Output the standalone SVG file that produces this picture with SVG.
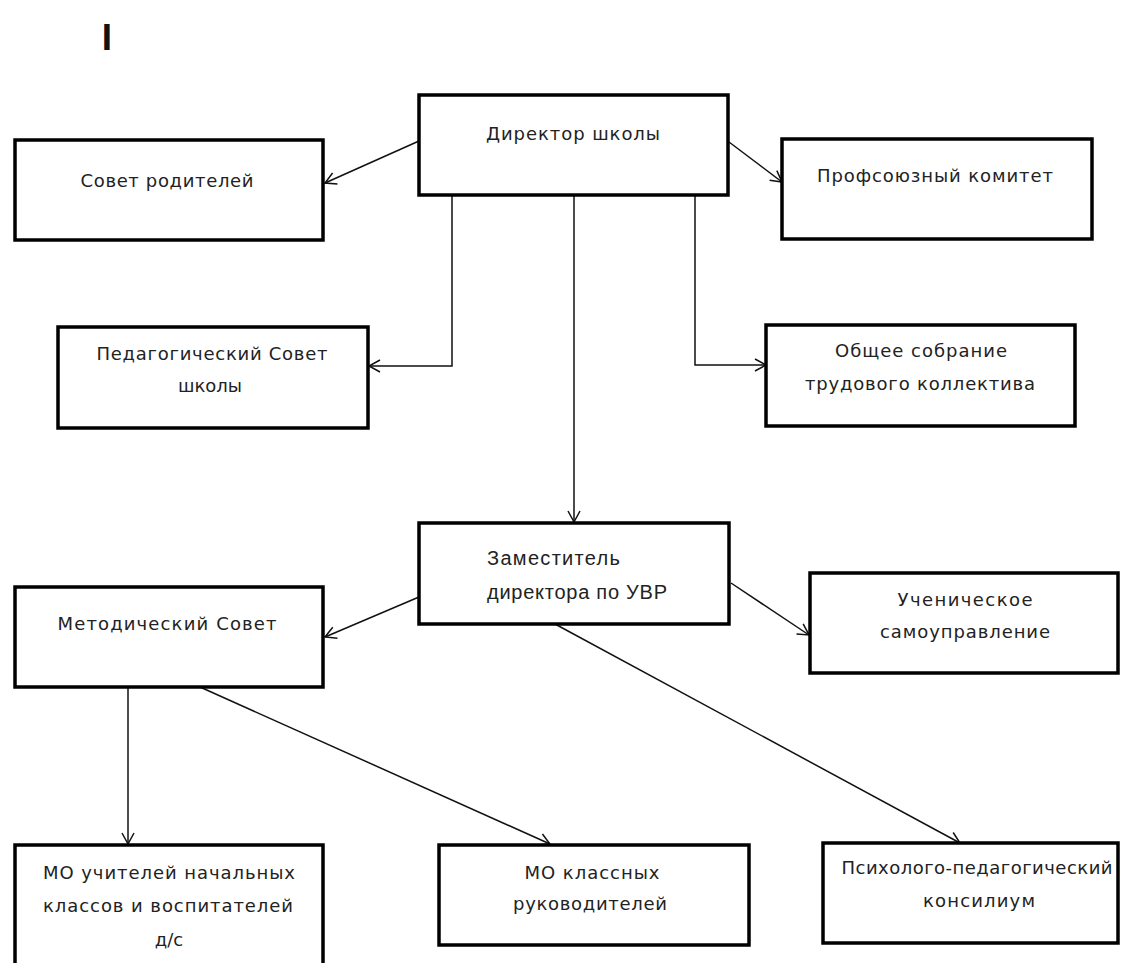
<svg xmlns="http://www.w3.org/2000/svg" width="1122" height="963" viewBox="0 0 1122 963">
<style>
.box{fill:#fff;stroke:#000;stroke-width:3.5}
.t{font-family:"DejaVu Sans",Verdana,sans-serif;font-size:18px;fill:#222}
.a{font-family:"Liberation Sans",Arial,sans-serif;font-size:20px;fill:#222}
.c{text-anchor:middle}
.ln{fill:none;stroke:#111;stroke-width:1.5}
</style>
<defs>
<marker id="a" markerUnits="userSpaceOnUse" markerWidth="16" markerHeight="16" refX="13" refY="8" orient="auto">
<path d="M2,2 L13,8 L2,14" fill="none" stroke="#111" stroke-width="1.5"/>
</marker>
</defs>
<rect width="1122" height="963" fill="#fff"/>
<text x="107" y="50" font-family="Liberation Sans,Arial,sans-serif" font-size="37" font-weight="bold" fill="#111" text-anchor="middle">I</text>
<g id="connectors">
<line class="ln" x1="419" y1="141" x2="325" y2="183" marker-end="url(#a)"/>
<line class="ln" x1="729" y1="142" x2="782" y2="182" marker-end="url(#a)"/>
<polyline class="ln" points="452,195 452,366 369,366" marker-end="url(#a)"/>
<polyline class="ln" points="695,195 695,365 766,365" marker-end="url(#a)"/>
<line class="ln" x1="574" y1="195" x2="574" y2="522" marker-end="url(#a)"/>
<line class="ln" x1="419" y1="597" x2="325" y2="637" marker-end="url(#a)"/>
<line class="ln" x1="731" y1="583" x2="809" y2="635" marker-end="url(#a)"/>
<line class="ln" x1="555" y1="624" x2="960" y2="843" marker-end="url(#a)"/>
<line class="ln" x1="128" y1="687" x2="128" y2="844" marker-end="url(#a)"/>
<line class="ln" x1="200" y1="687" x2="550" y2="844" marker-end="url(#a)"/>
</g>
<g id="n-director"><rect class="box" x="419" y="95" width="309" height="100"/><text class="t c" x="573" y="140" textLength="174" lengthAdjust="spacing">Директор школы</text></g>
<g id="n-parents"><rect class="box" x="15" y="140" width="308" height="100"/><text class="t c" x="167" y="187" textLength="173" lengthAdjust="spacing">Совет родителей</text></g>
<g id="n-union"><rect class="box" x="782" y="139" width="310" height="100"/><text class="t c" x="935" y="182" textLength="236" lengthAdjust="spacing">Профсоюзный комитет</text></g>
<g id="n-pedsovet"><rect class="box" x="58" y="327" width="310" height="101"/><text class="t c" x="212" y="360" textLength="231" lengthAdjust="spacing">Педагогический Совет</text><text class="t c" x="210" y="392">школы</text></g>
<g id="n-meeting"><rect class="box" x="766" y="325" width="309" height="101"/><text class="t c" x="921" y="357" textLength="172" lengthAdjust="spacing">Общее собрание</text><text class="t c" x="920" y="390" textLength="230" lengthAdjust="spacing">трудового коллектива</text></g>
<g id="n-deputy"><rect class="box" x="419" y="523" width="310" height="101"/><text class="a" x="487" y="565" textLength="133" lengthAdjust="spacing">Заместитель</text><text class="a" x="487" y="599" textLength="180" lengthAdjust="spacing">директора по УВР</text></g>
<g id="n-metod"><rect class="box" x="15" y="587" width="308" height="100"/><text class="t c" x="167" y="630" textLength="219" lengthAdjust="spacing">Методический Совет</text></g>
<g id="n-student"><rect class="box" x="810" y="573" width="308" height="100"/><text class="t c" x="965" y="606" textLength="135" lengthAdjust="spacing">Ученическое</text><text class="t c" x="965" y="638" textLength="170" lengthAdjust="spacing">самоуправление</text></g>
<g id="n-mo-primary"><rect class="box" x="15" y="845" width="308" height="130"/><text class="t c" x="169" y="879" textLength="252" lengthAdjust="spacing">МО учителей начальных</text><text class="t c" x="168" y="912" textLength="250" lengthAdjust="spacing">классов  и воспитателей</text><text class="t c" x="169" y="946">д/с</text></g>
<g id="n-mo-class"><rect class="box" x="439" y="845" width="310" height="100"/><text class="t c" x="592" y="879" textLength="135" lengthAdjust="spacing">МО классных</text><text class="t c" x="590" y="910" textLength="154" lengthAdjust="spacing">руководителей</text></g>
<g id="n-psych"><rect class="box" x="823" y="843" width="295" height="100"/><text class="t c" x="977" y="874" textLength="271" lengthAdjust="spacing">Психолого-педагогический</text><text class="t c" x="979" y="907" textLength="112" lengthAdjust="spacing">консилиум</text></g>
</svg>
